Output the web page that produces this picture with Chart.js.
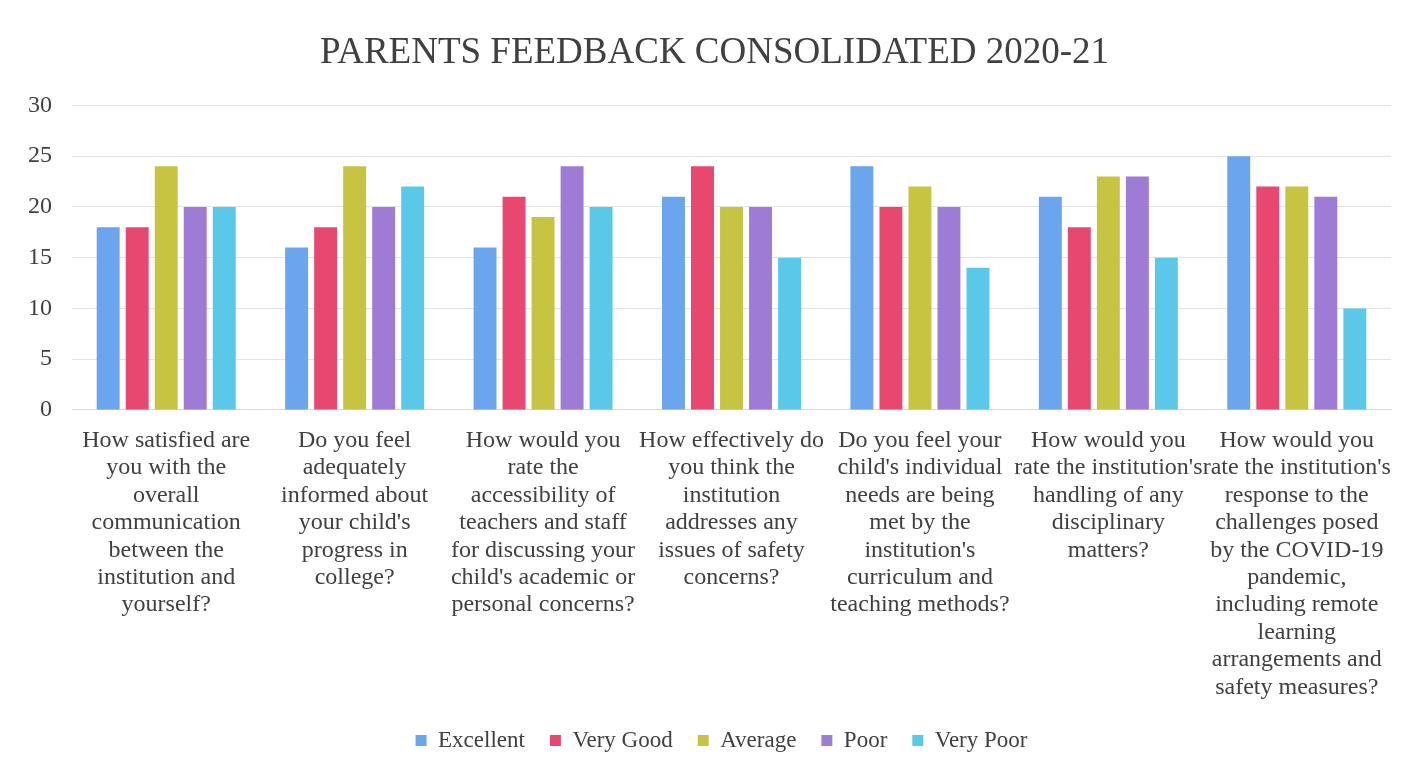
<!DOCTYPE html>
<html>
<head>
<meta charset="utf-8">
<script src="https://cdn.jsdelivr.net/npm/chart.js@4.4.0/dist/chart.umd.min.js"></script>
<style>
  html, body { margin: 0; padding: 0; background: #fff; }
  #wrap { width: 1413px; height: 770px; }
</style>
</head>
<body>
<div id="wrap"><canvas id="chart"></canvas></div>
<script>
const questions = [
    ["How satisfied are", "you with the", "overall", "communication", "between the", "institution and", "yourself?"],
    ["Do you feel", "adequately", "informed about", "your child's", "progress in", "college?"],
    ["How would you", "rate the", "accessibility of", "teachers and staff", "for discussing your", "child's academic or", "personal concerns?"],
    ["How effectively do", "you think the", "institution", "addresses any", "issues of safety", "concerns?"],
    ["Do you feel your", "child's individual", "needs are being", "met by the", "institution's", "curriculum and", "teaching methods?"],
    ["How would you", "rate the institution's", "handling of any", "disciplinary", "matters?"],
    ["How would you", "rate the institution's", "response to the", "challenges posed", "by the COVID-19", "pandemic,", "including remote", "learning", "arrangements and", "safety measures?"]
];

const excellent = [18, 16, 16, 21, 24, 21, 25];
const veryGood  = [18, 18, 21, 24, 20, 18, 22];
const average   = [24, 24, 19, 20, 22, 23, 22];
const poor      = [20, 20, 24, 20, 20, 23, 21];
const veryPoor  = [20, 22, 20, 15, 14, 15, 10];

const yTicks = [0, 5, 10, 15, 20, 25, 30];

const serif = "'Liberation Serif', 'DejaVu Serif', serif";

let makeSet = function (label, data, color) {
    return {
        label: label,
        data: data,
        backgroundColor: color,
        borderWidth: 0,
        categoryPercentage: 0.77,
        barPercentage: 0.79
    };
};

// title and legend sit a bit right of centre in the original
let nudge = {
    id: 'nudge',
    afterLayout: function (chart) {
        chart.titleBlock.left += 30;
        chart.legend.left += 44;
    }
};

let ctx = document.getElementById('chart').getContext('2d');

let myChart = new Chart(ctx, {
    type: 'bar',
    data: {
        labels: questions,
        datasets: [
            makeSet('Excellent', excellent, '#6aa5ee'),
            makeSet('Very Good', veryGood, '#e8486f'),
            makeSet('Average', average, '#c6c440'),
            makeSet('Poor', poor, '#9e7bd5'),
            makeSet('Very Poor', veryPoor, '#5ac9e9')
        ]
    },
    plugins: [nudge],
    options: {
        responsive: true,
        maintainAspectRatio: false,
        animation: false,
        layout: { padding: { left: 8, right: 22, top: 18, bottom: 8 } },
        plugins: {
            title: {
                display: true,
                text: 'PARENTS FEEDBACK CONSOLIDATED 2020-21',
                color: '#404040',
                font: { family: serif, size: 37, weight: 'normal' },
                padding: { top: 13, bottom: 30 }
            },
            legend: {
                position: 'bottom',
                labels: {
                    color: '#404040',
                    font: { family: serif, size: 23 },
                    boxWidth: 11,
                    boxHeight: 11,
                    padding: 25
                }
            },
            tooltip: { enabled: false }
        },
        scales: {
            x: {
                grid: { display: false },
                border: { color: '#d9d9d9' },
                afterFit: function (axis) {
                    // labels hang a little into the legend gap, as in the original
                    axis.height -= 6;
                },
                ticks: {
                    color: '#404040',
                    font: { family: serif, size: 24, lineHeight: 1.142 },
                    autoSkip: false,
                    maxRotation: 0,
                    padding: 9
                }
            },
            y: {
                min: 0,
                max: 30,
                grid: { color: '#e3e3e3', drawTicks: false },
                border: { display: false },
                afterBuildTicks: function (axis) {
                    axis.ticks = yTicks.map(v => ({ value: v }));
                },
                ticks: {
                    color: '#404040',
                    font: { family: serif, size: 24 },
                    padding: 20
                }
            }
        }
    }
});
</script>
</body>
</html>
